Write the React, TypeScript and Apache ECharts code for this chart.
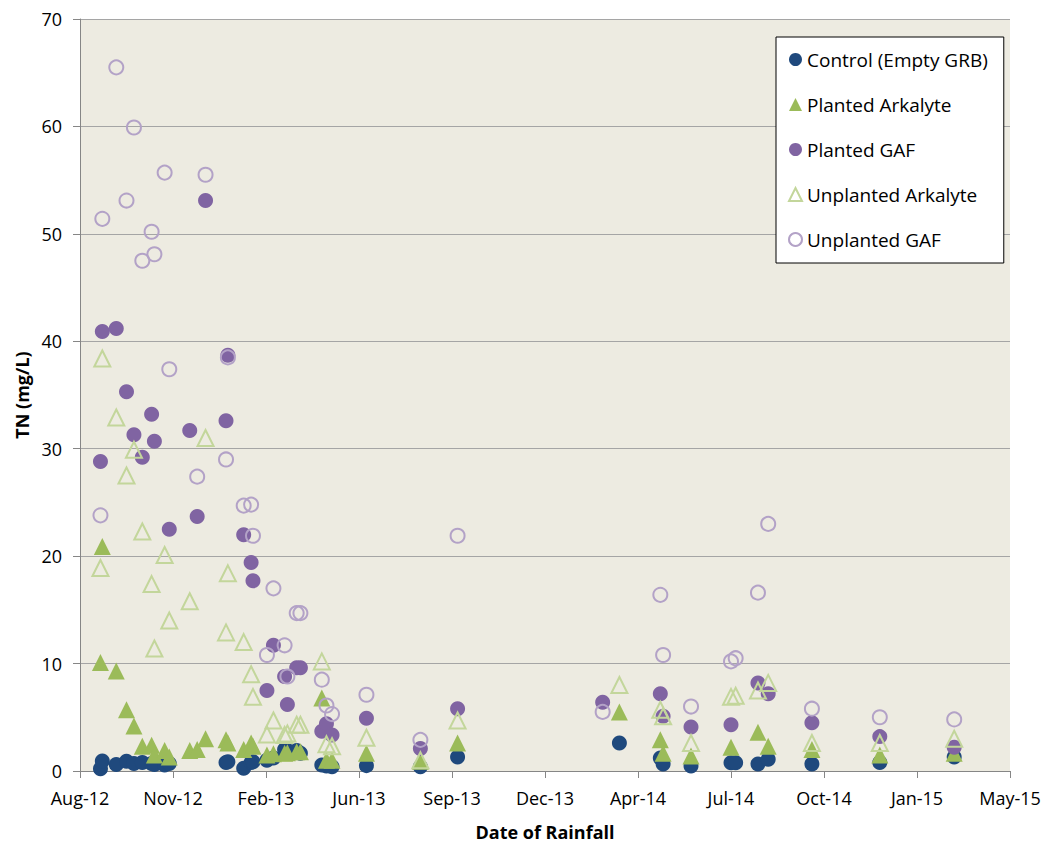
import React, { useEffect, useRef } from "react";
import * as echarts from "echarts";

// Axis setup (x axis counts days from BASE_DATE, ticks every 100 days like the original)
const BASE_DATE = "2012-08-10";
const X_MIN_DAYS = 0;
const X_MAX_DAYS = 1000;
const X_STEP_DAYS = 100;
const Y_MIN = 0;
const Y_MAX = 70;
const Y_STEP = 10;
const MONTHS = ["Jan", "Feb", "Mar", "Apr", "May", "Jun", "Jul", "Aug", "Sep", "Oct", "Nov", "Dec"];

const SERIES_NAMES = [
  "Control (Empty GRB)",
  "Planted Arkalyte",
  "Planted GAF",
  "Unplanted Arkalyte",
  "Unplanted GAF",
];

const controlData: [string, number][] = [
  ["2012-09-01", 0.2], ["2012-09-03", 0.93], ["2012-09-18", 0.6], ["2012-09-29", 0.9],
  ["2012-10-07", 0.7], ["2012-10-16", 0.8], ["2012-10-26", 0.7], ["2012-10-29", 0.6],
  ["2012-11-09", 0.56], ["2012-11-14", 0.7], ["2013-01-14", 0.8], ["2013-01-16", 0.87],
  ["2013-02-02", 0.25], ["2013-02-10", 0.8], ["2013-02-12", 0.87], ["2013-02-27", 1.0],
  ["2013-03-06", 1.2], ["2013-03-18", 2.0], ["2013-03-21", 1.9], ["2013-03-31", 1.9],
  ["2013-04-04", 1.65], ["2013-04-27", 0.56], ["2013-05-02", 0.47], ["2013-05-08", 0.4],
  ["2013-06-14", 0.5], ["2013-08-11", 0.4], ["2013-09-20", 1.3], ["2014-03-13", 2.6],
  ["2014-04-26", 1.2], ["2014-04-29", 0.65], ["2014-05-29", 0.47], ["2014-07-11", 0.77],
  ["2014-07-16", 0.77], ["2014-08-09", 0.65], ["2014-08-20", 1.1], ["2014-10-06", 0.65],
  ["2014-12-18", 0.8], ["2015-03-08", 1.3],
];

const plantedArkalyteData: [string, number][] = [
  ["2012-09-01", 10.1], ["2012-09-03", 20.9], ["2012-09-18", 9.3], ["2012-09-29", 5.7],
  ["2012-10-07", 4.2], ["2012-10-16", 2.3], ["2012-10-26", 2.4], ["2012-10-29", 1.5],
  ["2012-11-09", 1.9], ["2012-11-14", 1.3], ["2012-12-06", 1.9], ["2012-12-14", 2.0],
  ["2012-12-23", 3.0], ["2013-01-14", 2.9], ["2013-01-16", 2.6], ["2013-02-02", 2.0],
  ["2013-02-10", 2.6], ["2013-02-12", 2.3], ["2013-02-27", 1.5], ["2013-03-06", 1.6],
  ["2013-03-18", 1.65], ["2013-03-21", 1.7], ["2013-03-31", 1.8], ["2013-04-04", 1.8],
  ["2013-04-27", 6.8], ["2013-05-02", 1.0], ["2013-05-08", 1.0], ["2013-06-14", 1.65],
  ["2013-08-11", 0.9], ["2013-09-20", 2.6], ["2014-03-13", 5.5], ["2014-04-26", 2.9],
  ["2014-04-29", 1.65], ["2014-05-29", 1.4], ["2014-07-11", 2.2], ["2014-08-09", 3.6],
  ["2014-08-20", 2.3], ["2014-10-06", 2.0], ["2014-12-18", 1.5], ["2015-03-08", 1.65],
];

const plantedGafData: [string, number][] = [
  ["2012-09-01", 28.8], ["2012-09-03", 40.9], ["2012-09-18", 41.2], ["2012-09-29", 35.3],
  ["2012-10-07", 31.3], ["2012-10-16", 29.2], ["2012-10-26", 33.2], ["2012-10-29", 30.7],
  ["2012-11-14", 22.5], ["2012-12-06", 31.7], ["2012-12-14", 23.7], ["2012-12-23", 53.1],
  ["2013-01-14", 32.6], ["2013-01-16", 38.7], ["2013-02-02", 22.0], ["2013-02-10", 19.4],
  ["2013-02-12", 17.7], ["2013-02-27", 7.5], ["2013-03-06", 11.7], ["2013-03-18", 8.8],
  ["2013-03-21", 6.2], ["2013-03-31", 9.6], ["2013-04-04", 9.6], ["2013-04-27", 3.7],
  ["2013-05-02", 4.4], ["2013-05-08", 3.35], ["2013-06-14", 4.9], ["2013-08-11", 2.1],
  ["2013-09-20", 5.8], ["2014-02-23", 6.4], ["2014-04-26", 7.2], ["2014-04-29", 5.1],
  ["2014-05-29", 4.1], ["2014-07-11", 4.3], ["2014-08-09", 8.2], ["2014-08-20", 7.2],
  ["2014-10-06", 4.5], ["2014-12-18", 3.2], ["2015-03-08", 2.2],
];

const unplantedArkalyteData: [string, number][] = [
  ["2012-09-01", 18.9], ["2012-09-03", 38.4], ["2012-09-18", 32.9], ["2012-09-29", 27.5],
  ["2012-10-07", 29.9], ["2012-10-16", 22.3], ["2012-10-26", 17.4], ["2012-10-29", 11.4],
  ["2012-11-09", 20.1], ["2012-11-14", 14.0], ["2012-12-06", 15.8], ["2012-12-23", 31.0],
  ["2013-01-14", 12.9], ["2013-01-16", 18.4], ["2013-02-02", 12.0], ["2013-02-10", 9.0],
  ["2013-02-12", 6.9], ["2013-02-27", 3.4], ["2013-03-06", 4.7], ["2013-03-18", 3.35],
  ["2013-03-21", 3.5], ["2013-03-31", 4.3], ["2013-04-04", 4.3], ["2013-04-27", 10.2],
  ["2013-05-02", 2.5], ["2013-05-08", 2.3], ["2013-06-14", 3.1], ["2013-08-11", 1.0],
  ["2013-09-20", 4.7], ["2014-03-13", 8.0], ["2014-04-26", 5.7], ["2014-04-29", 5.1],
  ["2014-05-29", 2.6], ["2014-07-11", 6.9], ["2014-07-16", 7.0], ["2014-08-09", 7.5],
  ["2014-08-20", 8.2], ["2014-10-06", 2.6], ["2014-12-18", 2.6], ["2015-03-08", 3.0],
];

const unplantedGafData: [string, number][] = [
  ["2012-09-01", 23.8], ["2012-09-03", 51.4], ["2012-09-18", 65.5], ["2012-09-29", 53.1],
  ["2012-10-07", 59.9], ["2012-10-16", 47.5], ["2012-10-26", 50.2], ["2012-10-29", 48.1],
  ["2012-11-09", 55.7], ["2012-11-14", 37.4], ["2012-12-14", 27.4], ["2012-12-23", 55.5],
  ["2013-01-14", 29.0], ["2013-01-16", 38.5], ["2013-02-02", 24.7], ["2013-02-10", 24.8],
  ["2013-02-12", 21.9], ["2013-02-27", 10.8], ["2013-03-06", 17.0], ["2013-03-18", 11.7],
  ["2013-03-21", 8.8], ["2013-03-31", 14.7], ["2013-04-04", 14.7], ["2013-04-27", 8.5],
  ["2013-05-02", 6.1], ["2013-05-08", 5.3], ["2013-06-14", 7.1], ["2013-08-11", 2.9],
  ["2013-09-20", 21.9], ["2014-02-23", 5.5], ["2014-04-26", 16.4], ["2014-04-29", 10.8],
  ["2014-05-29", 6.0], ["2014-07-11", 10.2], ["2014-07-16", 10.5], ["2014-08-09", 16.6],
  ["2014-08-20", 23.0], ["2014-10-06", 5.8], ["2014-12-18", 5.0], ["2015-03-08", 4.8],
];

const DAY_MS = 86400000;
const BASE_MS = Date.parse(BASE_DATE + "T00:00:00Z");
const toDays = (s: string) => (Date.parse(s + "T00:00:00Z") - BASE_MS) / DAY_MS;
const toPoints = (rows: [string, number][]) => rows.map(([d, v]) => [toDays(d), v]);
const fmtDays = (d: number) => {
  const t = new Date(BASE_MS + d * DAY_MS);
  return MONTHS[t.getUTCMonth()] + "-" + String(t.getUTCFullYear()).slice(2);
};

const FONT = "'Open Sans', Lato, sans-serif";

export default function App() {
  const ref = useRef<HTMLDivElement>(null);
  useEffect(() => {
    if (!ref.current) return;
    const chart = echarts.init(ref.current, undefined, { renderer: "svg" });
    const option: any = {
      animation: false,
      textStyle: { fontFamily: FONT },
      grid: {
        left: 80, right: 39, top: 19, bottom: 72,
        containLabel: false,
        outerBoundsMode: "none",
        show: true, backgroundColor: "#EDEBE1", borderWidth: 0,
      },
      legend: {
        orient: "vertical",
        left: 776, top: 37,
        backgroundColor: "#FFFFFF",
        borderColor: "#000000",
        borderWidth: 1,
        padding: [13, 16, 14, 12],
        itemGap: 26,
        itemWidth: 13,
        itemHeight: 13,
        textStyle: { fontFamily: FONT, fontSize: 19, color: "#000" },
        data: SERIES_NAMES,
      },
      xAxis: {
        type: "value",
        min: X_MIN_DAYS, max: X_MAX_DAYS, interval: X_STEP_DAYS,
        name: "Date of Rainfall",
        nameLocation: "middle",
        nameGap: 52,
        nameTextStyle: { fontFamily: FONT, fontSize: 18, fontWeight: "bold", color: "#000" },
        axisLine: { show: true, lineStyle: { color: "#868686", width: 1 } },
        axisTick: { show: true, length: 7, lineStyle: { color: "#868686" } },
        splitLine: { show: false },
        axisLabel: { formatter: (v: number) => fmtDays(v), fontSize: 18, color: "#000", margin: 18, fontFamily: FONT },
      },
      yAxis: {
        type: "value",
        min: Y_MIN, max: Y_MAX, interval: Y_STEP,
        name: "TN (mg/L)",
        nameLocation: "middle",
        nameGap: 47,
        nameTextStyle: { fontFamily: FONT, fontSize: 18, fontWeight: "bold", color: "#000" },
        axisLine: { show: true, lineStyle: { color: "#868686", width: 1 } },
        axisTick: { show: true, length: 7, lineStyle: { color: "#868686" } },
        splitLine: { show: true, lineStyle: { color: "#A5A5A5", width: 1 } },
        axisLabel: { fontSize: 18, color: "#000", margin: 18, fontFamily: FONT },
      },
      series: [
        {
          name: SERIES_NAMES[0], type: "scatter", symbol: "circle", symbolSize: 15,
          itemStyle: { color: "#1F497D", opacity: 1 },
          data: toPoints(controlData),
        },
        {
          name: SERIES_NAMES[1], type: "scatter", symbol: "triangle", symbolSize: 17,
          itemStyle: { color: "#9BBB59", opacity: 1 },
          data: toPoints(plantedArkalyteData),
        },
        {
          name: SERIES_NAMES[2], type: "scatter", symbol: "circle", symbolSize: 15,
          itemStyle: { color: "#8064A2", opacity: 1 },
          data: toPoints(plantedGafData),
        },
        {
          name: SERIES_NAMES[3], type: "scatter", symbol: "triangle", symbolSize: 16,
          itemStyle: { color: "rgba(0,0,0,0)", borderColor: "#C3D69B", borderWidth: 2, opacity: 1 },
          data: toPoints(unplantedArkalyteData),
        },
        {
          name: SERIES_NAMES[4], type: "scatter", symbol: "circle", symbolSize: 14,
          itemStyle: { color: "rgba(0,0,0,0)", borderColor: "#B3A2C7", borderWidth: 2, opacity: 1 },
          data: toPoints(unplantedGafData),
        },
      ],
    };
    chart.setOption(option);
    return () => chart.dispose();
  }, []);
  return (
    <div
      ref={ref}
      style={{ position: "fixed", left: 0, top: 0, width: 1049, height: 843, background: "#FFFFFF" }}
    />
  );
}
